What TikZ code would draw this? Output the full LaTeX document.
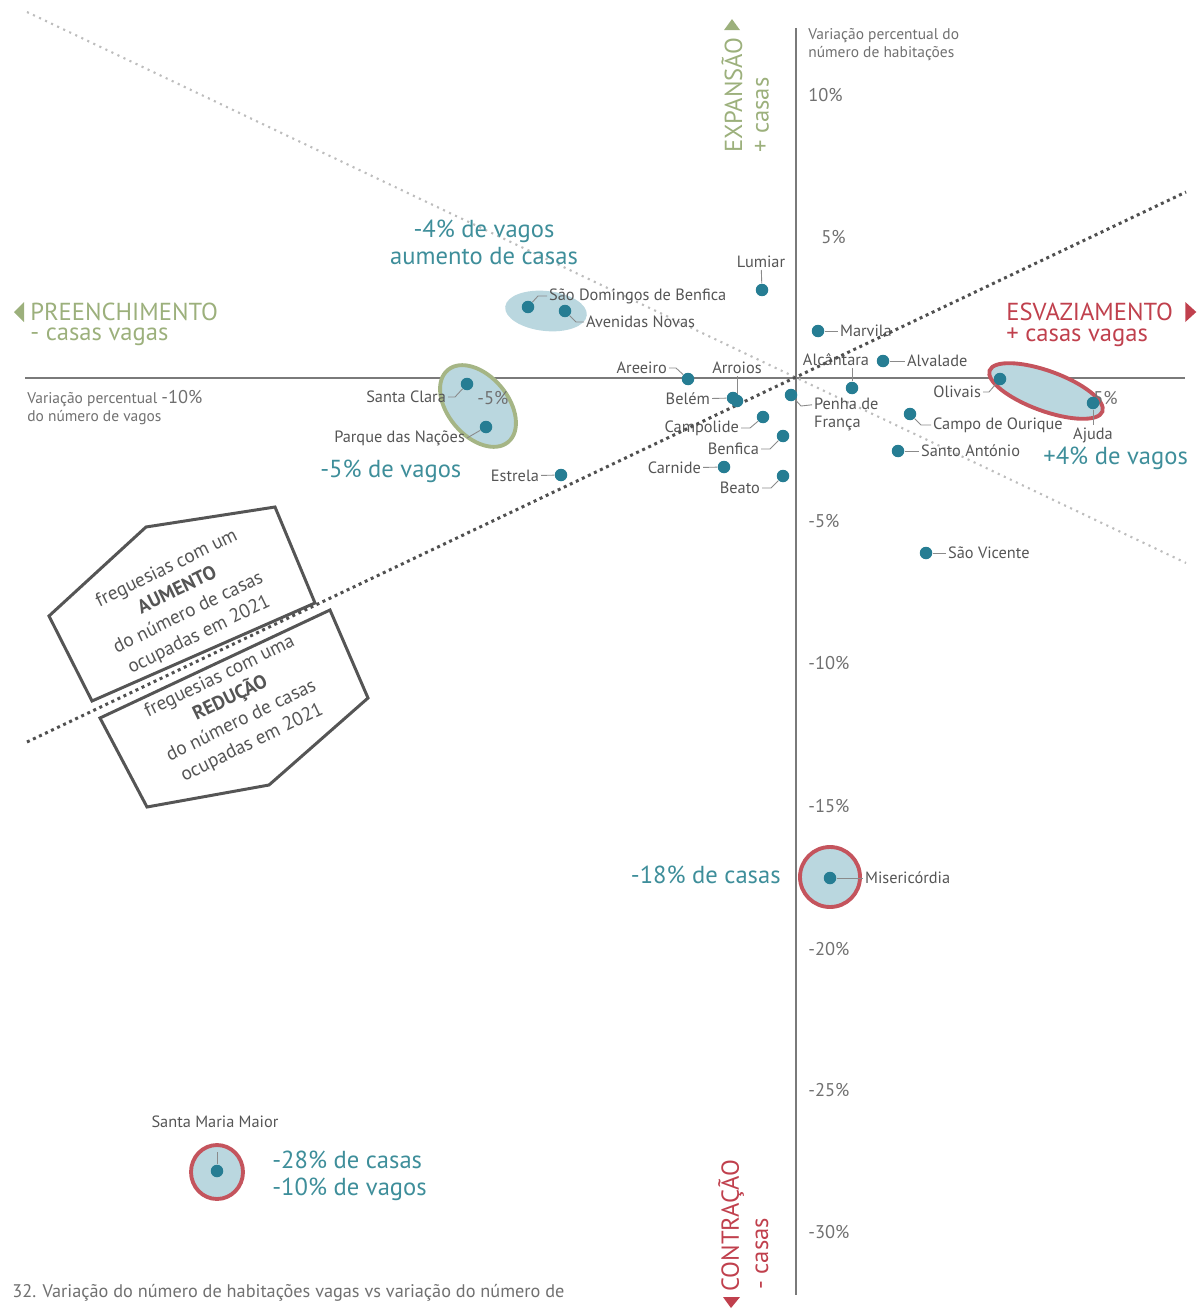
\documentclass[tikz,border=0pt]{standalone}
\usepackage{fontspec}
\setmainfont{PT Sans}
\usetikzlibrary{positioning}

\definecolor{tealdot}{HTML}{267D93}
\definecolor{tealtxt}{HTML}{3E8E9A}
\definecolor{bubblefill}{HTML}{BAD7DF}
\definecolor{olivetxt}{HTML}{9CB07C}
\definecolor{olivering}{HTML}{A5B585}
\definecolor{redtxt}{HTML}{C0404D}
\definecolor{redring}{HTML}{C4545D}
\definecolor{txtgray}{HTML}{555555}
\definecolor{tickgray}{HTML}{707070}
\definecolor{axisgray}{HTML}{7A7A7A}
\definecolor{leadgray}{HTML}{8A8A8A}
\definecolor{darkdots}{HTML}{505050}
\definecolor{lightdots}{HTML}{BDBDBD}

\newcommand{\lblfont}{\fontsize{9.3}{10.4}\selectfont}
\newcommand{\tickfont}{\fontsize{10.5}{12}\selectfont}
\newcommand{\bigfont}{\fontsize{14}{15.3}\selectfont}
\newcommand{\boxfont}{\fontsize{11}{14}\selectfont}
\newcommand{\titlefont}{\fontsize{8.8}{10.2}\selectfont}
\newcommand{\capfont}{\fontsize{10.4}{12}\selectfont}

\begin{document}
\begin{tikzpicture}[x=0.02cm, y=-0.02cm,
  dot/.style={circle, fill=tealdot, inner sep=0pt, minimum size=0.25cm},
  lbl/.style={text=txtgray, font=\lblfont, inner sep=1pt},
  leader/.style={draw=leadgray, line width=0.5pt},
  ticklbl/.style={text=tickgray, font=\tickfont, inner sep=0pt, anchor=west},
  titlelbl/.style={text=tickgray, font=\titlefont, inner sep=0pt},
  callout/.style={text=tealtxt, font=\bigfont, inner sep=0pt},
  greenlbl/.style={text=olivetxt, font=\bigfont, inner sep=0pt},
  redlbl/.style={text=redtxt, font=\bigfont, inner sep=0pt},
  boxtxt/.style={text=txtgray, font=\boxfont, inner sep=0pt},
  boxline/.style={draw=txtgray, line width=1.7pt, line join=miter},
  axis/.style={draw=axisgray, line width=0.8pt},
  trenddark/.style={draw=darkdots, line width=1.7pt, dash pattern=on 1.7pt off 2.1pt},
  trendlight/.style={draw=lightdots, line width=1.2pt, dash pattern=on 1.2pt off 2.6pt}]

\useasboundingbox (0,0) rectangle (1203,1311);

% axes and trend lines
\draw[axis] (796,28) -- (796,1295);
\draw[axis] (25,378) -- (1185,378);
\draw[trendlight] (27,12) -- (1186,563);
\draw[trenddark] (27,742) -- (1186,192);

% groups
\fill[bubblefill, rotate around={-6:(546,311)}] (546,311) ellipse [x radius=41, y radius=20];
\filldraw[fill=bubblefill, draw=olivering, line width=2.2pt, rotate around={-50:(478,406)}] (478,406) ellipse [x radius=47, y radius=30];
\filldraw[fill=bubblefill, draw=redring, line width=2.2pt, rotate around={-20:(1046,391)}] (1046,391) ellipse [x radius=60, y radius=20];
\filldraw[fill=bubblefill, draw=redring, line width=2.2pt] (830,877) circle [radius=30];
\filldraw[fill=bubblefill, draw=redring, line width=2.2pt] (217,1172) ellipse [x radius=26, y radius=27];

% axis labels
\node[titlelbl, anchor=north west, align=left] (ytitle) at (808,28) {Variação percentual do\\número de habitações};
\node[titlelbl, anchor=west, align=left] (xtitle) at (27,408) {Variação percentual {\tickfont -10\%}\\do número de vagos};
\node[ticklbl] (t10) at (808,95) {10\%};
\node[ticklbl] (t5) at (821,237) {5\%};
\node[ticklbl] (tm5) at (808,521) {-5\%};
\node[ticklbl] (tm10) at (808,663) {-10\%};
\node[ticklbl] (tm15) at (808,806) {-15\%};
\node[ticklbl] (tm20) at (808,949) {-20\%};
\node[ticklbl] (tm25) at (808,1090) {-25\%};
\node[ticklbl] (tm30) at (808,1232) {-30\%};
\node[ticklbl] (hm5) at (477,398) {-5\%};
\node[ticklbl] (h5) at (1093,398) {5\%};

% quadrant words
\node[greenlbl, anchor=west] (prefill) at (30,312) {PREENCHIMENTO};
\node[greenlbl, anchor=west] (prefillsub) at (30,337) {- casas vagas};
\fill[olivetxt] (prefill.west) ++(-16,0) -- ++(10,-10) -- ++(0,20) -- cycle;
\node[redlbl, anchor=west] (drain) at (1006,312) {ESVAZIAMENTO};
\node[redlbl, anchor=west] (drainsub) at (1006,337) {+ casas vagas};
\fill[redtxt] (drain.east) ++(12,-10) -- ++(0,20) -- ++(11,-10) -- cycle;
\node[greenlbl, rotate=90, anchor=west] (expand) at (732,153) {EXPANSÃO};
\node[greenlbl, rotate=90, anchor=west] (expandsub) at (762,153) {+ casas};
\fill[olivetxt] (expand.east) ++(-8,-7) -- ++(16,0) -- ++(-8,-11) -- cycle;
\node[redlbl, rotate=90, anchor=west] (contract) at (731,1292) {CONTRAÇÃO};
\node[redlbl, rotate=90, anchor=west] (contractsub) at (762,1290) {- casas};
\fill[redtxt] (contract.west) ++(-8,5) -- ++(17,0) -- ++(-9,11) -- cycle;

% callouts
\node[callout, align=center] (incvac) at (484,242) {-4\% de vagos\\aumento de casas};
\node[callout, anchor=west] (decvac) at (320,471) {-5\% de vagos};
\node[callout, anchor=west] (plusvac) at (1043,458) {+4\% de vagos};
\node[callout, anchor=east] (miscall) at (781,875) {-18\% de casas};
\node[callout, anchor=west, align=left] (smmcall) at (272,1176) {-28\% de casas\\-10\% de vagos};

% freguesias
\node[dot] (sdb) at (528,307) {};
\node[dot] (avn) at (565,311) {};
\node[dot] (lum) at (762,290) {};
\node[dot] (mar) at (818,331) {};
\node[dot] (alc) at (852,388) {};
\node[dot] (alv) at (883,361) {};
\node[dot] (are) at (688,379) {};
\node[dot] (bel) at (733,398) {};
\node[dot] (arr) at (737,401) {};
\node[dot] (pen) at (791,395) {};
\node[dot] (cpl) at (763,417) {};
\node[dot] (ben) at (783,436) {};
\node[dot] (car) at (724,467) {};
\node[dot] (bea) at (783,476) {};
\node[dot] (est) at (561,475) {};
\node[dot] (oli) at (1000,379) {};
\node[dot] (aju) at (1093,403) {};
\node[dot] (cdo) at (910,414) {};
\node[dot] (san) at (898,451) {};
\node[dot] (svi) at (926,553) {};
\node[dot] (scl) at (467,384) {};
\node[dot] (pdn) at (486,427) {};
\node[dot] (mis) at (830,878) {};
\node[dot] (smm) at (217,1171) {};
\coordinate (smmtop) at (217,1152);

\node[lbl, anchor=west] (sdbL) at (547,296) {São Domingos de Benfica};
\node[lbl, anchor=west] (avnL) at (584,322) {Avenidas Novas};
\node[lbl] (lumL) at (761,262) {Lumiar};
\node[lbl, anchor=west] (marL) at (838,331) {Marvila};
\node[lbl] (alcL) at (836,360) {Alcântara};
\node[lbl, anchor=west] (alvL) at (905,361) {Alvalade};
\node[lbl, anchor=east] (areL) at (669,368) {Areeiro};
\node[lbl] (arrL) at (737,368) {Arroios};
\node[lbl, anchor=east] (belL) at (712,399) {Belém};
\node[lbl, anchor=north west, align=left] (penL) at (812,396) {Penha de\\França};
\node[lbl, anchor=east] (cplL) at (741,428) {Campolide};
\node[lbl, anchor=east] (benL) at (761,449) {Benfica};
\node[lbl, anchor=east] (carL) at (703,468) {Carnide};
\node[lbl, anchor=east] (beaL) at (762,488) {Beato};
\node[lbl, anchor=east] (estL) at (541,476) {Estrela};
\node[lbl, anchor=east] (oliL) at (983,392) {Olivais};
\node[lbl] (ajuL) at (1093,435) {Ajuda};
\node[lbl, anchor=west] (cdoL) at (931,425) {Campo de Ourique};
\node[lbl, anchor=west] (sanL) at (919,451) {Santo António};
\node[lbl, anchor=west] (sviL) at (946,553) {São Vicente};
\node[lbl, anchor=east] (sclL) at (448,397) {Santa Clara};
\node[lbl, anchor=east] (pdnL) at (467,438) {Parque das Nações};
\node[lbl, anchor=west] (misL) at (863,878) {Misericórdia};
\node[lbl] (smmL) at (215,1122) {Santa Maria Maior};

\draw[leader] (sdb) -- ++(10,-11) -- (sdbL.west);
\draw[leader] (avn) -- ++(11,11) -- (avnL.west);
\draw[leader] (lum) -- (lumL);
\draw[leader] (mar) -- (marL);
\draw[leader] (alc) -- (alc |- alcL.south);
\draw[leader] (alv) -- (alvL);
\draw[leader] (areL.east) -- ++(7,0) -- (are);
\draw[leader] (arr) -- (arr |- arrL.south);
\draw[leader] (belL) -- (bel);
\draw[leader] (pen) -- ++(10,11) -- ([yshift=-5pt]penL.north west);
\draw[leader] (cplL.east) -- ++(9,0) -- (cpl);
\draw[leader] (benL.east) -- ++(9,0) -- (ben);
\draw[leader] (carL) -- (car);
\draw[leader] (beaL.east) -- ++(9,0) -- (bea);
\draw[leader] (estL) -- (est);
\draw[leader] (oliL.east) -- ++(6,0) -- (oli);
\draw[leader] (aju) -- (ajuL);
\draw[leader] (cdo) -- ++(11,11) -- (cdoL.west);
\draw[leader] (san) -- (sanL);
\draw[leader] (svi) -- (sviL);
\draw[leader] (sclL.east) -- ++(7,0) -- (scl);
\draw[leader] (pdnL.east) -- (pdn);
\draw[leader] (mis) -- (misL);
\draw[leader] (smm) -- (smmtop);

% boxes
\draw[boxline] (49,616) -- (146,527) -- (275,507) -- (315,603) -- (92,701) -- cycle;
\draw[boxline] (100,718) -- (330,610) -- (368,698) -- (269,785) -- (147,807) -- cycle;
\node[boxtxt, rotate=26, align=center] (upbox) at (183,602) {freguesias com um\\{\bfseries AUMENTO}\\do número de casas\\ocupadas em 2021};
\node[boxtxt, rotate=26, align=center] (lowbox) at (236,710) {freguesias com uma\\{\bfseries REDUÇÃO}\\do número de casas\\ocupadas em 2021};

% caption
\node[text=tickgray, font=\capfont, anchor=west, inner sep=0pt] (caption) at (12,1293) {32. Variação do número de habitações vagas vs variação do número de};

\end{tikzpicture}
\end{document}
